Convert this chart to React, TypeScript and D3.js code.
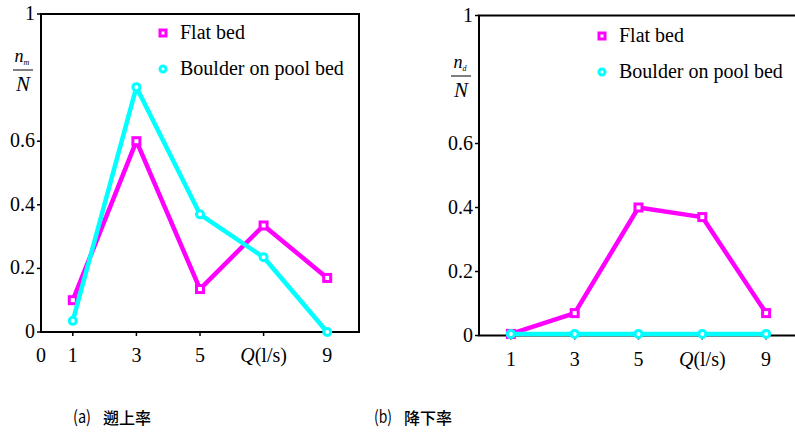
import * as d3 from 'd3';

const flowRates = [1, 3, 5, 7, 9];
const xTickLabels = ['1', '3', '5', 'Q', '9'];
const yTicks = [0, 0.2, 0.4, 0.6, 1];
const seriesNames = ['Flat bed', 'Boulder on pool bed'];

// (a) run-up rate
const runupFlat = [0.1, 0.6, 0.135, 0.335, 0.17];
const runupBoulder = [0.035, 0.77, 0.37, 0.235, 0];
// (b) drop rate
const dropFlat = [0.005, 0.07, 0.4, 0.37, 0.07];
const dropBoulder = [0.005, 0.005, 0.005, 0.005, 0.005];

const MAGENTA = '#ff00ff';
const CYAN = '#00ffff';
const SERIF = 'Liberation Serif, DejaVu Serif';
const CJK = 'Noto Sans CJK JP';

function Panel({ x0, x1, yTop, yBottom, flat, boulder, sub, showZero, legendX, legendY, fracX, fracY, tag, caption, captionX }) {
    const x = d3.scaleLinear().domain([0, 10]).range([x0, x1]);
    const y = d3.scaleLinear().domain([0, 1]).range([yBottom, yTop]);
    const line = d3.line<number>()
        .x((d, i) => x(flowRates[i]))
        .y(d => y(d));

    return (
        <g>
            {/* frame */}
            <rect x={x0} y={yTop} width={x1 - x0} height={yBottom - yTop}
                fill="none" stroke="#000" strokeWidth={2} />

            {/* y ticks */}
            {yTicks.map(t => (
                <g key={t}>
                    <line x1={x0 - 4} x2={x0} y1={y(t)} y2={y(t)} stroke="#000" strokeWidth={1.5} />
                    <text x={x0 - 6} y={y(t) + 6} textAnchor="end" fontFamily={SERIF} fontSize={20}>{t}</text>
                </g>
            ))}

            {/* x ticks */}
            {flowRates.map((v, i) => (
                <g key={v}>
                    <line x1={x(v)} x2={x(v)} y1={yBottom} y2={yBottom + 4} stroke="#000" strokeWidth={1.5} />
                    {xTickLabels[i] === 'Q'
                        ? <text x={x(v)} y={yBottom + 30} textAnchor="middle" fontFamily={SERIF} fontSize={20}>
                            <tspan fontStyle="italic">Q</tspan>(l/s)
                          </text>
                        : <text x={x(v)} y={yBottom + 30} textAnchor="middle" fontFamily={SERIF} fontSize={20}>{xTickLabels[i]}</text>}
                </g>
            ))}
            {showZero && <text x={x(0)} y={yBottom + 30} textAnchor="middle" fontFamily={SERIF} fontSize={20}>0</text>}

            {/* y label as fraction */}
            <g fontFamily={SERIF} fontStyle="italic">
                <text x={fracX - 1} y={fracY - 8} textAnchor="middle" fontSize={18}>
                    n<tspan fontSize={8} dy={3}>{sub}</tspan>
                </text>
                <line x1={fracX - 10} x2={fracX + 10} y1={fracY} y2={fracY} stroke="#000" strokeWidth={1} />
                <text x={fracX} y={fracY + 21} textAnchor="middle" fontSize={21}>N</text>
            </g>

            {/* series */}
            <path d={line(flat)} fill="none" stroke={MAGENTA} strokeWidth={4.5} strokeLinejoin="round" />
            {flat.map((d, i) => (
                <rect key={i} x={x(flowRates[i]) - 3.5} y={y(d) - 3.5} width={7} height={7}
                    fill="#fff" stroke={MAGENTA} strokeWidth={3} />
            ))}
            <path d={line(boulder)} fill="none" stroke={CYAN} strokeWidth={4.5} strokeLinejoin="round" />
            {boulder.map((d, i) => (
                <circle key={i} cx={x(flowRates[i])} cy={y(d)} r={3.5}
                    fill="#fff" stroke={CYAN} strokeWidth={3} />
            ))}

            {/* legend */}
            <rect x={legendX - 3} y={legendY - 3} width={6} height={6} fill="#fff" stroke={MAGENTA} strokeWidth={3} />
            <text x={legendX + 17} y={legendY + 6} fontFamily={SERIF} fontSize={20}>{seriesNames[0]}</text>
            <circle cx={legendX} cy={legendY + 36} r={3} fill="#fff" stroke={CYAN} strokeWidth={3} />
            <text x={legendX + 17} y={legendY + 42} fontFamily={SERIF} fontSize={20}>{seriesNames[1]}</text>

            {/* caption */}
            <text x={captionX} y={423} fontFamily={CJK} fontSize={17} textLength={18} lengthAdjust="spacingAndGlyphs">{tag}</text>
            <text x={captionX + 30} y={424} fontFamily={CJK} fontSize={16} fontWeight={500}>{caption}</text>
        </g>
    );
}

export default function App() {
    return (
        <svg width={795} height={432} style={{ position: 'absolute', left: 0, top: 0, background: '#fff' }}>
            <Panel x0={41} x1={359} yTop={14} yBottom={332}
                flat={runupFlat} boulder={runupBoulder} sub="m" showZero
                legendX={163} legendY={33} fracX={23} fracY={70}
                tag="(a)" caption="遡上率" captionX={73} />
            <Panel x0={479} x1={798} yTop={15.5} yBottom={335.5}
                flat={dropFlat} boulder={dropBoulder} sub="d" showZero={false}
                legendX={602} legendY={36} fracX={461} fracY={76}
                tag="(b)" caption="降下率" captionX={374} />
        </svg>
    );
}
